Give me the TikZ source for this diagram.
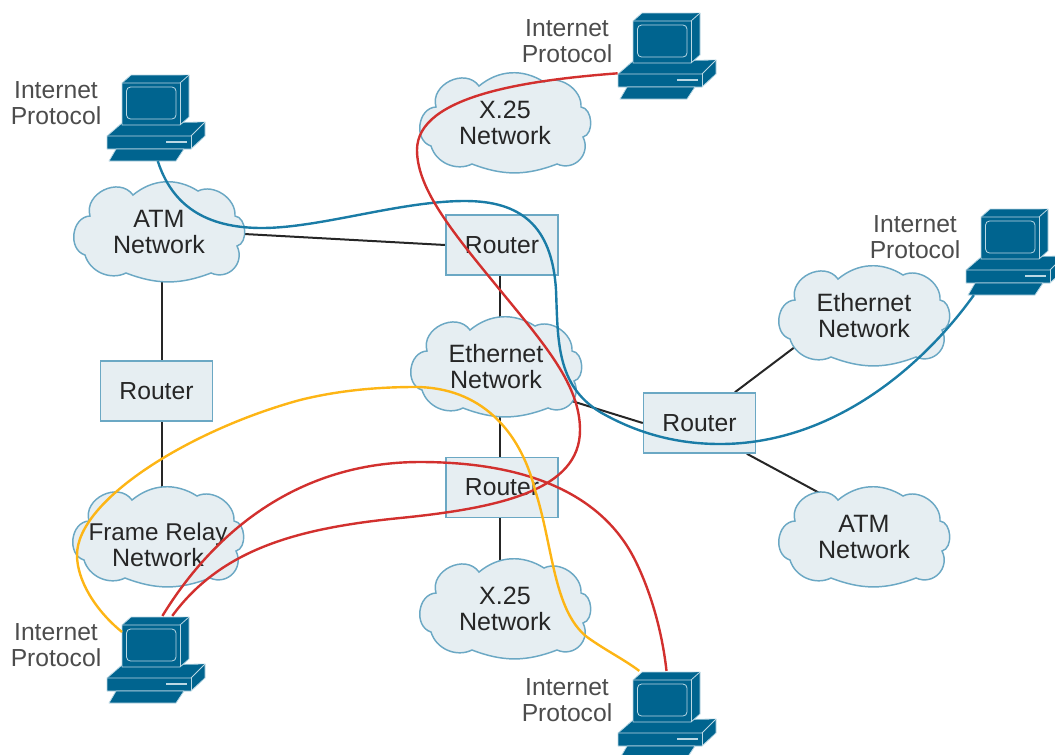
\documentclass[tikz,border=0pt]{standalone}
\usepackage{fontspec}
\setmainfont{Liberation Sans}
\usetikzlibrary{shapes.geometric,backgrounds}
\definecolor{pcblue}{HTML}{00648F}
\definecolor{pcline}{HTML}{BBD8E4}
\definecolor{boxfill}{HTML}{E6EEF2}
\definecolor{boxline}{HTML}{6BA8C4}
\definecolor{wireblue}{HTML}{1A7CA6}
\definecolor{wirered}{HTML}{D2302E}
\definecolor{wireyellow}{HTML}{FDB515}
\tikzset{
    routerbox/.style={draw=boxline,fill=boxfill,line width=1.1pt,minimum width=84pt,minimum height=45pt,inner sep=0pt,font=\fontsize{18.5}{19.5}\selectfont,text=black!85},
    cloudnode/.style={ellipse,minimum width=129pt,minimum height=75pt,inner sep=0pt,align=center,font=\fontsize{18.8}{19.5}\selectfont,text=black!85},
    cloudline/.style={draw=boxline,fill=boxfill,line width=1.1pt},
    pcnode/.style={minimum width=73pt,minimum height=65pt,inner sep=0pt},
    pclabel/.style={align=center,inner sep=0pt,font=\fontsize{18.5}{19.5}\selectfont,text=black!70},
    pcpart/.style={fill=pcblue,draw=pcline,line width=0.6pt,line join=round},
    link/.style={line width=1.5pt,black!85},
    wire/.style={line width=1.8pt}
}
\newcommand{\netcloud}[5][0]{
    \begin{scope}[shift={(#3,#4+#1)}]
        \draw[cloudline](-26,-37)to[bend left=36](39,-41)to[bend left=60](76,-16)to[bend left=80](78,14)
            to[bend left=70,looseness=1.3](52,41)to[bend left=21](-33,41)to[bend left=50](-74,23)
            to[bend left=80,looseness=1.2](-69,-16)to[bend left=80,looseness=1.25]cycle;
    \end{scope}
    \node[cloudnode](#2)at(#3,#4){#5};
}
\newcommand{\computer}[3]{
    \begin{scope}[shift={(#2,#3)}]
        \draw[pcpart](0,40)--(-15,53)--(-15,66)--(69,66)--(83,53)--(83,39)--cycle;
        \draw[pcpart](-15,53)--(69,53)--(83,39);
        \draw[pcpart](69,53)--(69,66);
        \draw[pcpart](-13,78)--(54,78)--(62,66)--(-6,66)--cycle;
        \draw[pcpart](0,0)--(9,-8)--(67,-8)--(67,34)--(58,42)--(0,42)--cycle;
        \draw[pcpart](0,0)--(58,0)--(67,-8);
        \draw[pcpart](58,0)--(58,42);
        \draw[pcpart,rounded corners=3pt](4.5,4)rectangle(54,36);
        \draw[pcline,line width=1pt](44,59)--(65,59);
    \end{scope}
    \node[pcnode](#1)at(#2+33.5,#3+34.5){};
    \node[pclabel](#1lab)at(#2-66,#3+20){Internet\\Protocol};
}
\begin{document}
\begin{tikzpicture}[x=0.75pt,y=-0.75pt]
        \path[use as bounding box,clip](0,0)rectangle(1055,754);
        \netcloud{atml}{159}{232}{ATM\\Network}
        \netcloud{xtop}{505}{123}{X.25\\Network}
        \netcloud{ethmid}{496}{367}{Ethernet\\Network}
        \netcloud[-8]{frame}{158}{545}{\fontsize{18.2}{19.5}\selectfont Frame Relay\\Network}
        \netcloud{xbot}{505}{609}{X.25\\Network}
        \netcloud{ethr}{864}{316}{Ethernet\\Network}
        \netcloud{atmr}{864}{537}{ATM\\Network}
        \node[routerbox](rtop)at(502,245){Router};
        \node[routerbox](rmid)at(502,487.5){Router};
        \node[routerbox](rleft)at(156.5,391){Router};
        \node[routerbox](rright)at(699.5,423){Router};
        \computer{pcl}{122}{83}
        \computer{pctop}{633}{21}
        \computer{pcr}{981}{217}
        \computer{pcbl}{122}{625}
        \computer{pcbot}{633}{680}
        \coordinate(yellowend)at(122,632);
        \begin{scope}[on background layer]
            \draw[link]([yshift=2pt]atml.center)--(rtop.west);
            \draw[link]([xshift=-1.5pt]rtop.south)--([xshift=-1.5pt]rtop.south|-ethmid.center);
            \draw[link]([xshift=-1.5pt]rmid.north)--([xshift=-1.5pt]rmid.north|-ethmid.center);
            \draw[link]([xshift=-1.5pt]rmid.south)--([xshift=-1.5pt]rmid.south|-xbot.center);
            \draw[link]([xshift=4pt]rleft.north)--([xshift=4pt]rleft.north|-atml.center);
            \draw[link]([xshift=4pt]rleft.south)--([xshift=4pt]rleft.south|-frame.center);
            \draw[link](ethmid.-25)--(rright.west);
            \draw[link](rright.41)--(ethr.204);
            \draw[link,shorten >=-8pt](rright.-33)--(atmr.135);
        \end{scope}
        \draw[wire,wireblue](pcl.-87)..controls(172,205)and(205,228)..(262,228)..controls(320,228)and(400,201)..(465,201)
            ..controls(520,201)and(552,225)..(556,290)..controls(558,340)and(556,385)..(600,412)
            ..controls(640,435)and(680,444)..(720,444)..controls(830,444)and(920,370)..(pcr.227);
        \draw[wire,wirered](pctop.200)..controls(530,80)and(417,95)..(417,150)..controls(417,190)and(455,235)..(500,290)
            ..controls(545,345)and(580,385)..(580,430)..controls(580,490)and(500,508)..(400,518)
            ..controls(300,528)and(222,548)..(pcbl.69);
        \draw[wire,wirered](pcbl.81)..controls(215,530)and(300,462)..(420,462)..controls(520,462)and(600,490)..(635,560)
            ..controls(650,590)and(662,630)..(pcbot.north);
        \draw[wire,wireyellow](yellowend)..controls(95,610)and(77,580)..(77,555)..controls(77,500)and(190,430)..(300,400)
            ..controls(340,390)and(380,387)..(415,387)..controls(480,387)and(520,430)..(535,490)
            ..controls(553,545)and(553,610)..(587,637)..controls(605,650)and(625,660)..(pcbot.122);
    \end{tikzpicture}
\end{document}
